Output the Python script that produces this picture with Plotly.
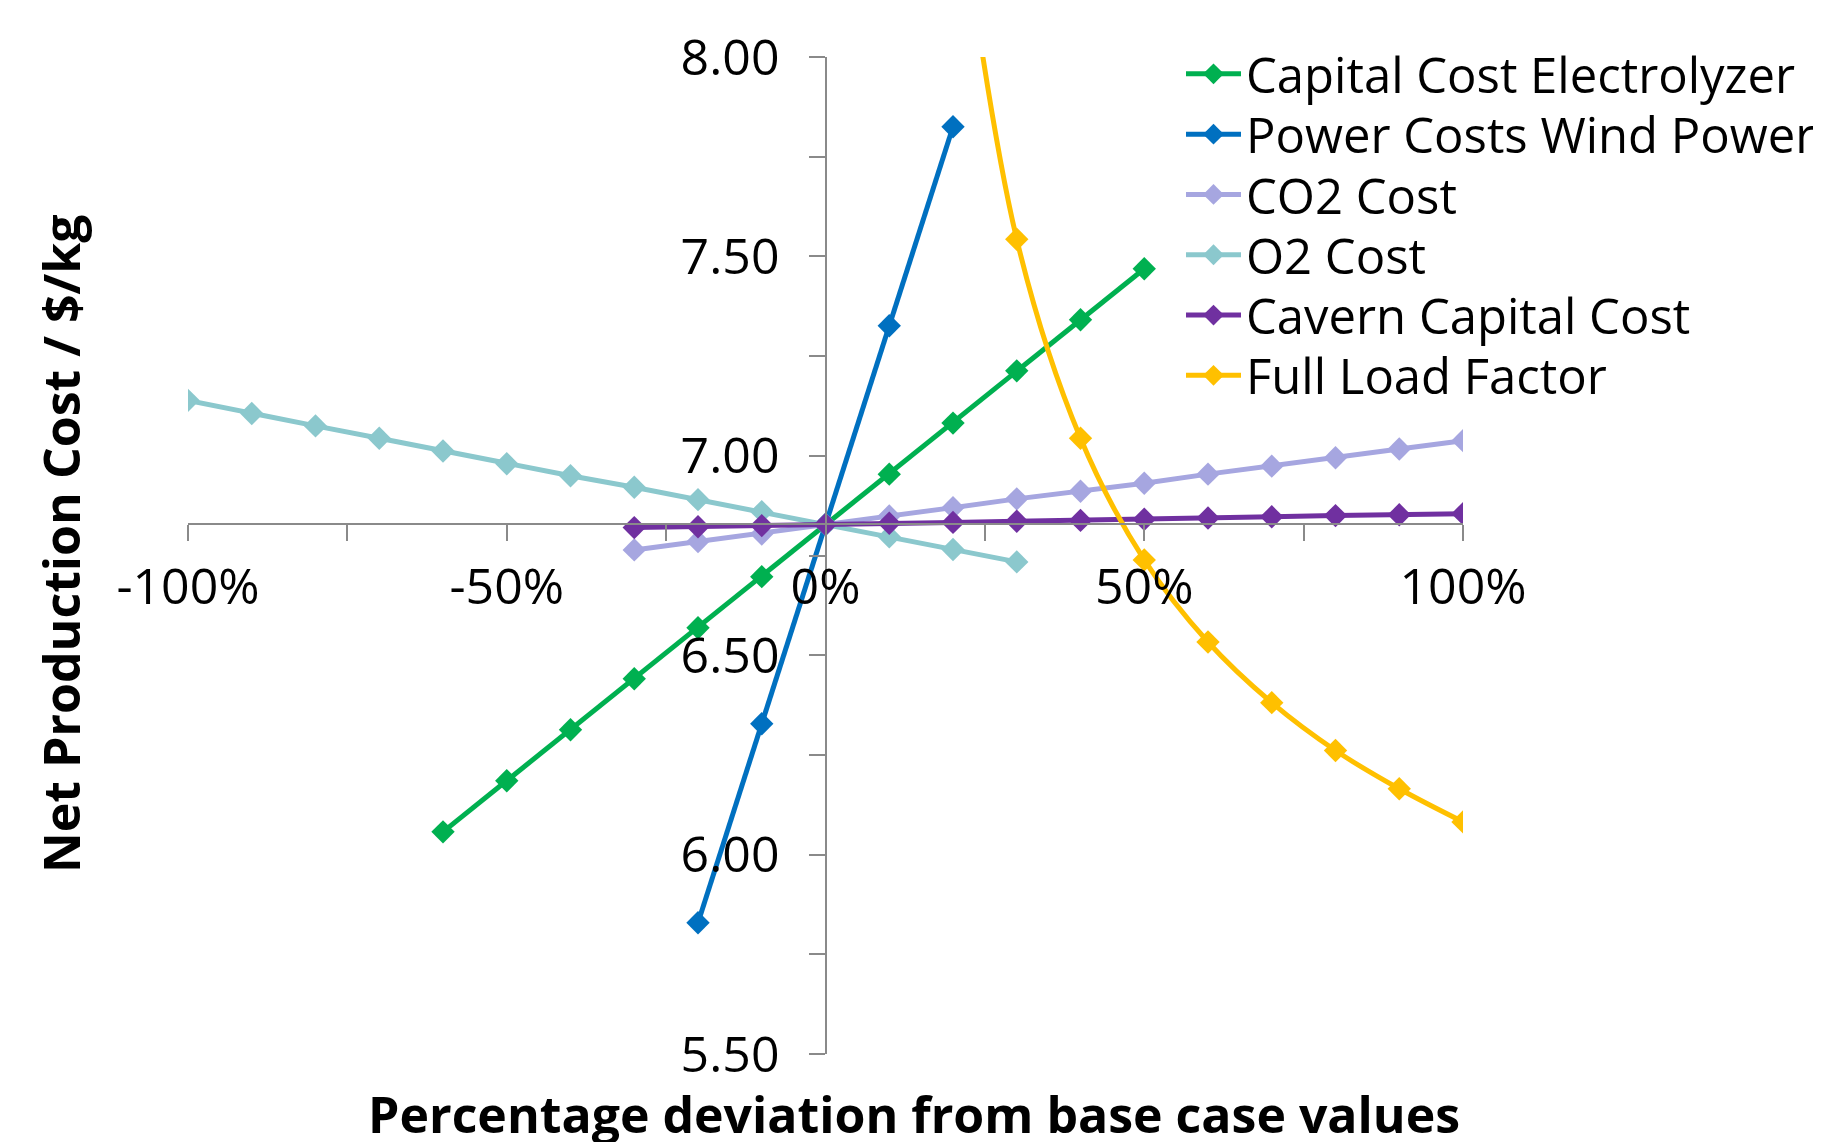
import plotly.graph_objects as go

# ---------------- data ----------------
capital_pct = [-60, -50, -40, -30, -20, -10, 0, 10, 20, 30, 40, 50]
capital_cost = [6.057, 6.185, 6.313, 6.441, 6.569, 6.697, 6.828, 6.954, 7.082, 7.213, 7.341, 7.469]

power_pct = [-20, -10, 0, 10, 20]
power_cost = [5.829, 6.328, 6.828, 7.326, 7.825]

co2_pct = [-30, -20, -10, 0, 10, 20, 30, 40, 50, 60, 70, 80, 90, 100]
co2_cost = [6.764, 6.785, 6.804, 6.828, 6.849, 6.870, 6.892, 6.911, 6.931, 6.954, 6.974, 6.995, 7.017, 7.038]

o2_pct = [-100, -90, -80, -70, -60, -50, -40, -30, -20, -10, 0, 10, 20, 30]
o2_cost = [7.139, 7.106, 7.075, 7.044, 7.012, 6.980, 6.950, 6.921, 6.890, 6.860, 6.828, 6.797, 6.765, 6.734]

cavern_pct = [-30, -20, -10, 0, 10, 20, 30, 40, 50, 60, 70, 80, 90, 100]
cavern_cost = [6.820, 6.822, 6.825, 6.828, 6.831, 6.833, 6.836, 6.838, 6.841, 6.844, 6.847, 6.850, 6.852, 6.855]

flf_pct = [20, 30, 40, 50, 60, 70, 80, 90, 100]
flf_cost = [8.52, 7.543, 7.044, 6.739, 6.533, 6.381, 6.261, 6.165, 6.082]

series_names = ["Capital Cost Electrolyzer", "Power Costs Wind Power", "CO2 Cost",
                "O2 Cost", "Cavern Capital Cost", "Full Load Factor"]

x_tick_vals = [-1.0, -0.5, 0.0, 0.5, 1.0]
x_tick_text = ["-100%", "-50%", "0%", "50%", "100%"]
x_minor_vals = [-0.75, -0.25, 0.25, 0.75]
y_tick_vals = [5.5, 6.0, 6.5, 7.0, 7.5, 8.0]
y_tick_text = ["5.50", "6.00", "6.50", "7.00", "7.50", "8.00"]
y_minor_vals = [5.75, 6.25, 6.75, 7.25, 7.75]

x_range = [-1.0, 1.0]
y_range = [5.5, 8.0]
x_axis_cross = 6.83   # horizontal axis crosses the vertical axis at this cost
y_axis_cross = 0.0    # vertical axis crosses at 0 %

# ---------------- styling ----------------
colors = ["#00B050", "#0070C0", "#A6A6E0", "#8BC8CD", "#7030A0", "#FFC000"]
FONT = "Open Sans"
AXIS_GRAY = "#8A8A8A"

W, H = 1821, 1142
PAGE_OFFSET = 8            # default body margin of the html page
ML, MR, MT, MB = 180, 366, 49, 96
plot_w = W - ML - MR
plot_h = H - MT - MB


def px_to_paper_x(page_px):
    return (page_px - PAGE_OFFSET - ML) / plot_w


def px_to_paper_y(page_py):
    return (H - MB - (page_py - PAGE_OFFSET)) / plot_h


all_series = [
    (capital_pct, capital_cost),
    (power_pct, power_cost),
    (co2_pct, co2_cost),
    (o2_pct, o2_cost),
    (cavern_pct, cavern_cost),
    (flf_pct, flf_cost),
]

fig = go.Figure()
legend_keys = ["legend", "legend2", "legend3", "legend4", "legend5", "legend6"]
for i, ((xs, ys), name, col) in enumerate(zip(all_series, series_names, colors)):
    fig.add_trace(go.Scatter(
        x=[v / 100 for v in xs], y=ys, name=name,
        mode="lines+markers",
        line=dict(color=col, width=5, shape="spline" if name == "Full Load Factor" else "linear"),
        marker=dict(symbol="diamond", size=18, color=col, line=dict(width=0)),
        legend=legend_keys[i],
    ))

# separate one-entry legends, stacked with the reference spacing
legend_first_center = 74
legend_step = 60.3
for i, key in enumerate(legend_keys):
    fig.update_layout({key: dict(
        x=px_to_paper_x(1181), xanchor="left",
        y=px_to_paper_y(legend_first_center + i * legend_step), yanchor="middle",
        bgcolor="rgba(0,0,0,0)", borderwidth=0,
        font=dict(family=FONT, size=49, color="#000000"),
        itemwidth=55,
    )})

tick_font = dict(family=FONT, size=50, color="#000000")

fig.update_layout(
    width=W, height=H,
    margin=dict(l=ML, r=MR, t=MT, b=MB, autoexpand=False),
    paper_bgcolor="white", plot_bgcolor="white",
    showlegend=True,
    xaxis=dict(
        range=x_range, domain=[0, 1],
        anchor="free", position=(x_axis_cross - y_range[0]) / (y_range[1] - y_range[0]),
        showgrid=False, zeroline=False,
        showline=True, linecolor=AXIS_GRAY, linewidth=2,
        ticks="outside", ticklen=16, tickwidth=2, tickcolor=AXIS_GRAY,
        tickmode="array", tickvals=x_tick_vals, ticktext=x_tick_text,
        minor=dict(tickmode="array", tickvals=x_minor_vals, ticks="outside",
                   ticklen=16, tickwidth=2, tickcolor=AXIS_GRAY, showgrid=False),
        tickfont=tick_font, ticklabelstandoff=3,
        automargin=False,
    ),
    yaxis=dict(
        range=y_range, domain=[0, 1],
        anchor="free", position=(y_axis_cross - x_range[0]) / (x_range[1] - x_range[0]),
        showgrid=False, zeroline=False,
        showline=True, linecolor=AXIS_GRAY, linewidth=2,
        ticks="outside", ticklen=16, tickwidth=2, tickcolor=AXIS_GRAY,
        tickmode="array", tickvals=y_tick_vals, ticktext=y_tick_text,
        minor=dict(tickmode="array", tickvals=y_minor_vals, ticks="outside",
                   ticklen=16, tickwidth=2, tickcolor=AXIS_GRAY, showgrid=False),
        tickfont=tick_font, ticklabelstandoff=19,
        automargin=False,
    ),
    annotations=[
        dict(text="<b>Net Production Cost / $/kg</b>", textangle=-90,
             xref="paper", yref="paper", x=px_to_paper_x(61), y=px_to_paper_y(544),
             xanchor="center", yanchor="middle", showarrow=False,
             font=dict(family=FONT, size=50, color="#000000")),
        dict(text="<b>Percentage deviation from base case values</b>",
             xref="paper", yref="paper", x=px_to_paper_x(914), y=px_to_paper_y(1114),
             xanchor="center", yanchor="middle", showarrow=False,
             font=dict(family=FONT, size=50, color="#000000")),
    ],
)

fig.write_html("out.html")
